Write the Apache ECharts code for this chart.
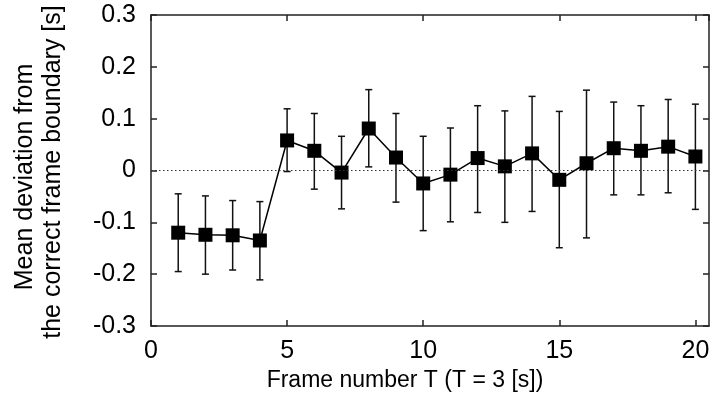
<!DOCTYPE html>
<html>
<head>
<meta charset="utf-8">
<script src="https://cdn.jsdelivr.net/npm/echarts@6/dist/echarts.min.js"></script>
<style>
html,body{margin:0;padding:0;background:#fff;}
#chart{width:713px;height:403px;}
</style>
</head>
<body>
<div id="chart"></div>
<script>
var frames = [1,2,3,4,5,6,7,8,9,10,11,12,13,14,15,16,17,18,19,20];
var means  = [-0.120,-0.124,-0.125,-0.135,0.058,0.038,-0.004,0.081,0.025,-0.025,-0.008,0.024,0.008,0.033,-0.018,0.014,0.043,0.038,0.046,0.027];
var upper  = [-0.045,-0.049,-0.058,-0.060,0.119,0.110,0.066,0.156,0.110,0.066,0.082,0.125,0.115,0.143,0.114,0.155,0.132,0.125,0.137,0.128];
var lower  = [-0.195,-0.200,-0.192,-0.211,-0.002,-0.036,-0.074,0.007,-0.061,-0.116,-0.099,-0.081,-0.100,-0.079,-0.149,-0.130,-0.047,-0.047,-0.043,-0.075];
var xTicks = [0,5,10,15,20];
var yTicks = [-0.3,-0.2,-0.1,0,0.1,0.2,0.3];
var xTitle = 'Frame number T (T = 3 [s])';
var yTitle1 = 'Mean deviation from';
var yTitle2 = 'the correct frame boundary [s]';

var lineData = frames.map(function(f,i){return [f, means[i]];});
var errData = frames.map(function(f,i){return [f, lower[i], upper[i]];});

var FONT = 'Liberation Sans, Arial, sans-serif';
var FS = 25;
var AX = '#222';

var chart = echarts.init(document.getElementById('chart'), null, {renderer:'canvas'});
var baseX = {
  type:'value', min:0, max:20.5, interval:5,
  axisLine:{show:true, onZero:false, lineStyle:{color:AX, width:1.5}},
  axisTick:{show:true, inside:true, length:6, lineStyle:{color:AX, width:1.5}},
  splitLine:{show:false}
};
var baseY = {
  type:'value', min:-0.3, max:0.3, interval:0.1,
  axisLine:{show:true, onZero:false, lineStyle:{color:AX, width:1.5}},
  axisTick:{show:true, inside:true, length:6, lineStyle:{color:AX, width:1.5}},
  splitLine:{show:false}
};
function fmtX(v){ return xTicks.indexOf(v) >= 0 ? String(v) : ''; }
function fmtY(v){
  var r = Math.round(v*10)/10;
  for (var i=0;i<yTicks.length;i++){ if (Math.abs(yTicks[i]-r)<1e-9) return r===0 ? '0' : r.toFixed(1); }
  return '';
}
var option = {
  animation:false,
  backgroundColor:'#fff',
  grid:{left:151, right:4, top:15, bottom:77, show:false},
  xAxis:[
    Object.assign({}, baseX, {position:'bottom',
      axisLabel:{show:true, formatter:fmtX, fontFamily:FONT, fontSize:FS, color:'#000', margin:13, showMaxLabel:false}}),
    Object.assign({}, baseX, {position:'top', axisLabel:{show:false}})
  ],
  yAxis:[
    Object.assign({}, baseY, {position:'left',
      axisLabel:{show:true, formatter:fmtY, fontFamily:FONT, fontSize:FS, color:'#000', margin:15}}),
    Object.assign({}, baseY, {position:'right', axisLabel:{show:false}})
  ],
  series:[
    {
      type:'custom',
      xAxisIndex:0, yAxisIndex:0,
      data:errData,
      renderItem:function(params, api){
        var x = api.value(0);
        var lo = api.coord([x, api.value(1)]);
        var hi = api.coord([x, api.value(2)]);
        var hw = 3.5;
        var st = {stroke:'#111', lineWidth:1.5, fill:null};
        return {type:'group', children:[
          {type:'line', shape:{x1:lo[0], y1:lo[1], x2:hi[0], y2:hi[1]}, style:st},
          {type:'line', shape:{x1:lo[0]-hw, y1:lo[1], x2:lo[0]+hw, y2:lo[1]}, style:st},
          {type:'line', shape:{x1:hi[0]-hw, y1:hi[1], x2:hi[0]+hw, y2:hi[1]}, style:st}
        ]};
      },
      z:2
    },
    {
      type:'line',
      xAxisIndex:0, yAxisIndex:0,
      data:lineData,
      symbol:'rect', symbolSize:14,
      lineStyle:{color:'#000', width:1.5},
      itemStyle:{color:'#000'},
      z:3,
      markLine:{
        silent:true, symbol:['none','none'], label:{show:false},
        lineStyle:{type:[1.5,2.5], color:'#333', width:1},
        data:[{yAxis:0}]
      }
    }
  ],
  graphic:[
    {type:'text', x:405, y:381, style:{text:xTitle, font:'23px '+FONT, fill:'#000', textAlign:'center', textVerticalAlign:'middle'}},
    {type:'text', rotation:Math.PI/2, x:25, y:177, style:{text:yTitle1, font:'25px '+FONT, fill:'#000', textAlign:'center', textVerticalAlign:'middle'}},
    {type:'text', rotation:Math.PI/2, x:53, y:172, style:{text:yTitle2, font:'25px '+FONT, fill:'#000', textAlign:'center', textVerticalAlign:'middle'}}
  ]
};
chart.setOption(option);
</script>
</body>
</html>
